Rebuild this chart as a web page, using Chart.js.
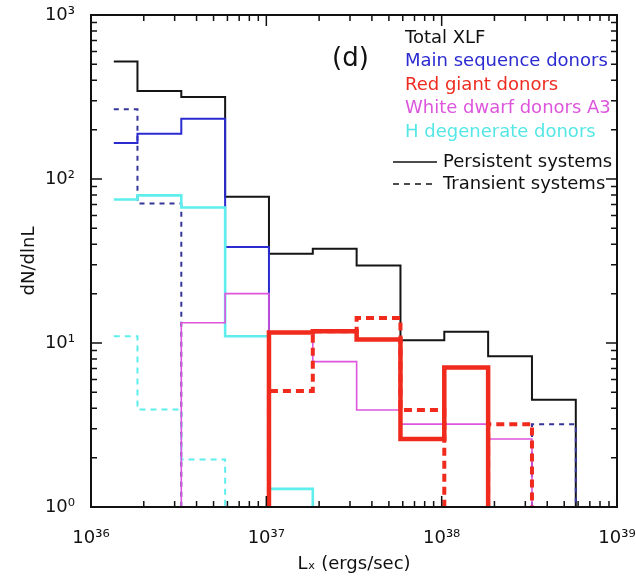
<!DOCTYPE html>
<html>
<head>
<meta charset="utf-8">
<script src="https://cdn.jsdelivr.net/npm/chart.js@4.4.1/dist/chart.umd.min.js"></script>
<style>
  html, body { margin: 0; padding: 0; background: #fff; }
</style>
</head>
<body>
<canvas id="grafico" width="636" height="578"></canvas>
<script>
// bordas dos bins em log10(Lx)
const binEdges = [36.13, 36.265, 36.515, 36.765, 37.015, 37.265, 37.515, 37.765, 38.015, 38.265, 38.515, 38.765];

// dN/dlnL por bin (0 = sem sistemas)
const totalXLF        = [520, 344, 316, 78, 35, 37.6, 29.7, 10.4, 11.7, 8.3, 4.5];
const mainSeqPersist  = [166, 189, 233, 38.5, 0, 0, 0, 0, 0, 0, 0];
const mainSeqTrans    = [266, 70.8, 0, 0, 0, 0, 0, 0, 0, 0, 3.2];
const redGiantPersist = [0, 0, 0, 0, 11.6, 11.8, 10.5, 2.6, 7.1, 0, 0];
const redGiantTrans   = [0, 0, 0, 0, 5.1, 11.8, 14.2, 3.9, 0, 3.2, 0];
const whiteDwarfA3    = [0, 0, 13.3, 20, 11.6, 7.7, 3.9, 3.2, 3.2, 2.6, 0];
const hDegPersist     = [75, 79.5, 67, 11, 1.29, 0, 0, 0, 0, 0, 0];
const hDegTrans       = [11, 3.93, 1.95, 0, 0, 0, 0, 0, 0, 0, 0];

const xTicks = [36, 37, 38, 39];
const xTickLabels = ["10³⁶", "10³⁷", "10³⁸", "10³⁹"];
const yTicks = [1, 10, 100, 1000];
const yTickLabels = ["10⁰", "10¹", "10²", "10³"];

const legendItems = [
  { text: "Total XLF", color: "#111111" },
  { text: "Main sequence donors", color: "#2b2bd0" },
  { text: "Red giant donors", color: "#ee2c20" },
  { text: "White dwarf donors A3", color: "#dd55dd" },
  { text: "H degenerate donors", color: "#55e6e6" }
];

const fonte = '"DejaVu Sans", sans-serif';
const piso = 1; // fundo do eixo y

// transforma valores por bin em pontos de degrau
function degraus(valores) {
  const pts = [];
  let aberto = false;
  valores.forEach((v, i) => {
    if (v > 0) {
      if (!aberto && i > 0) pts.push({ x: binEdges[i], y: piso });
      pts.push({ x: binEdges[i], y: v });
      aberto = true;
    } else if (aberto) {
      pts.push({ x: binEdges[i], y: piso });
      pts.push({ x: binEdges[i], y: null });
      aberto = false;
    }
  });
  if (aberto) pts.push({ x: binEdges[binEdges.length - 1], y: piso });
  return pts;
}

function serie(valores, cor, largura, traco) {
  return {
    data: degraus(valores),
    borderColor: cor,
    borderWidth: largura,
    borderDash: traco || [],
    stepped: "before",
    pointRadius: 0,
    fill: false,
    spanGaps: false
  };
}

const molduraPlugin = {
  id: "moldura",
  afterDatasetsDraw(chart) {
    const { ctx, chartArea: a, scales: { x, y } } = chart;
    ctx.save();
    ctx.strokeStyle = "#111";
    ctx.lineWidth = 1.5;
    ctx.beginPath();
    const tick = (px, major, vertical) => {
      const len = major ? 11 : 6;
      if (vertical) {
        ctx.moveTo(px, a.bottom); ctx.lineTo(px, a.bottom - len);
        ctx.moveTo(px, a.top); ctx.lineTo(px, a.top + len);
      } else {
        ctx.moveTo(a.left, px); ctx.lineTo(a.left + len, px);
        ctx.moveTo(a.right, px); ctx.lineTo(a.right - len, px);
      }
    };
    xTicks.forEach((d, i) => {
      tick(x.getPixelForValue(d), true, true);
      if (i < xTicks.length - 1) {
        for (let k = 2; k < 10; k++) tick(x.getPixelForValue(d + Math.log10(k)), false, true);
      }
    });
    yTicks.forEach((d, i) => {
      tick(y.getPixelForValue(d), true, false);
      if (i < yTicks.length - 1) {
        for (let k = 2; k < 10; k++) tick(y.getPixelForValue(d * k), false, false);
      }
    });
    ctx.stroke();
    ctx.lineWidth = 2;
    ctx.strokeRect(a.left, a.top, a.right - a.left, a.bottom - a.top);

    // rotulo do painel
    ctx.fillStyle = "#111";
    ctx.font = "26px " + fonte;
    ctx.textBaseline = "middle";
    ctx.fillText("(d)", 332, 59);

    // legenda
    ctx.font = "18px " + fonte;
    legendItems.forEach((item, i) => {
      ctx.fillStyle = item.color;
      ctx.fillText(item.text, 405, 38 + i * 23.6);
    });
    ctx.fillStyle = "#111";
    ctx.fillText("Persistent systems", 443, 162);
    ctx.fillText("Transient systems", 443, 184);
    ctx.lineWidth = 1.5;
    ctx.beginPath();
    ctx.moveTo(393, 162); ctx.lineTo(437, 162);
    ctx.stroke();
    ctx.setLineDash([6, 5]);
    ctx.beginPath();
    ctx.moveTo(393, 184); ctx.lineTo(437, 184);
    ctx.stroke();
    ctx.restore();
  }
};

new Chart(document.getElementById("grafico").getContext("2d"), {
  type: "line",
  data: {
    datasets: [
      serie(redGiantPersist, "#f02a1c", 4.5),
      serie(redGiantTrans, "#f02a1c", 4, [8, 5]),
      serie(whiteDwarfA3, "#dd55dd", 1.6),
      serie(hDegPersist, "#5eeeee", 2.6),
      serie(hDegTrans, "#5eeeee", 2, [6, 5]),
      serie(mainSeqPersist, "#2b2bd0", 2),
      serie(mainSeqTrans, "#35359a", 2, [5, 5]),
      serie(totalXLF, "#151515", 2)
    ]
  },
  options: {
    responsive: false,
    animation: false,
    layout: { padding: { top: 15, right: 19, left: 0, bottom: 0 } },
    plugins: { legend: { display: false }, tooltip: { enabled: false } },
    scales: {
      x: {
        type: "linear",
        min: 36,
        max: 39,
        afterBuildTicks: s => { s.ticks = xTicks.map(v => ({ value: v })); },
        afterFit: s => { s.height = 71; s.paddingLeft = 0; s.paddingRight = 0; },
        grid: { display: false },
        border: { display: false },
        ticks: {
          callback: v => xTickLabels[xTicks.indexOf(v)],
          font: { family: fonte, size: 18 },
          color: "#111",
          padding: 13,
          maxRotation: 0,
          autoSkip: false
        },
        title: {
          display: true,
          text: "Lₓ (ergs/sec)",
          font: { family: fonte, size: 18 },
          color: "#111",
          padding: { top: 0, bottom: 3 }
        }
      },
      y: {
        type: "logarithmic",
        min: 1,
        max: 1000,
        afterBuildTicks: s => { s.ticks = yTicks.map(v => ({ value: v })); },
        afterFit: s => { s.width = 91; s.paddingTop = 0; s.paddingBottom = 0; },
        grid: { display: false },
        border: { display: false },
        ticks: {
          callback: v => yTickLabels[yTicks.indexOf(v)],
          font: { family: fonte, size: 18 },
          color: "#111",
          padding: 8,
          autoSkip: false
        },
        title: {
          display: true,
          text: "dN/dlnL",
          font: { family: fonte, size: 18 },
          color: "#111",
          padding: { top: 19, bottom: 0 }
        }
      }
    }
  },
  plugins: [molduraPlugin]
});
</script>
</body>
</html>
